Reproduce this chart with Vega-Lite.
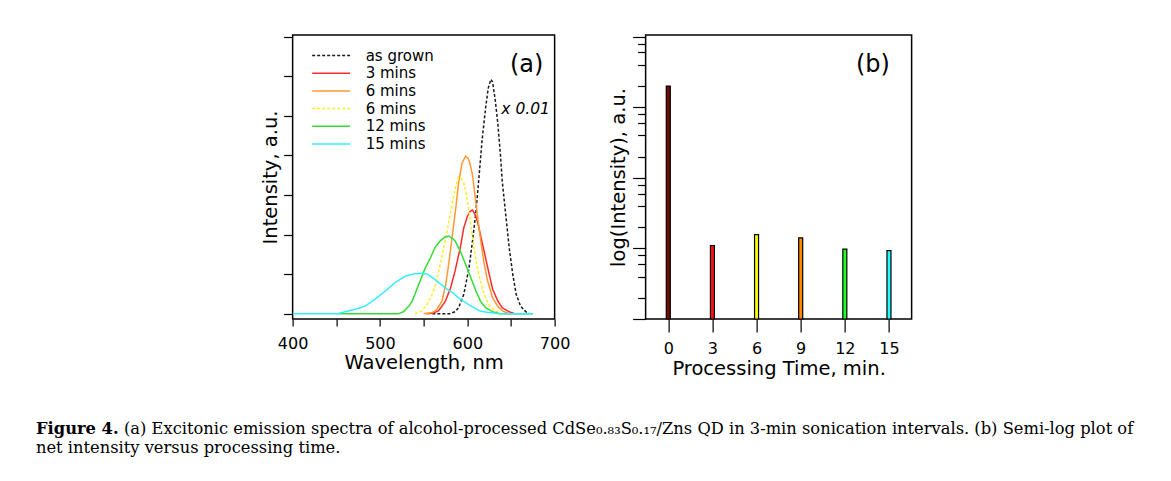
{
  "$schema": "https://vega.github.io/schema/vega-lite/v6.json",
  "background": "white",
  "padding": {"left": 36, "top": 34, "right": 0, "bottom": 0},
  "config": {
    "view": {"stroke": "black", "strokeWidth": 1.5},
    "font": "DejaVu Sans",
    "axis": {
      "domain": false, "grid": false, "tickColor": "black", "tickWidth": 1.2,
      "labelColor": "black", "labelFont": "DejaVu Sans", "labelFontSize": 16,
      "titleFont": "DejaVu Sans", "titleFontSize": 19.5, "titleFontWeight": "normal", "titleColor": "black"
    }
  },
  "vconcat": [
    {
      "hconcat": [
        {
          "width": 262, "height": 284,
          "data": {"values": [
            {"s": "as grown", "nm": 560, "v": 0}, {"s": "as grown", "nm": 580, "v": 0}, {"s": "as grown", "nm": 586, "v": 0.05}, {"s": "as grown", "nm": 590, "v": 0.15}, {"s": "as grown", "nm": 596, "v": 0.49}, {"s": "as grown", "nm": 602, "v": 1.16}, {"s": "as grown", "nm": 606, "v": 1.84}, {"s": "as grown", "nm": 610, "v": 2.6}, {"s": "as grown", "nm": 613, "v": 3.35}, {"s": "as grown", "nm": 617, "v": 4.4}, {"s": "as grown", "nm": 621, "v": 5.2}, {"s": "as grown", "nm": 624, "v": 5.7}, {"s": "as grown", "nm": 627, "v": 5.92}, {"s": "as grown", "nm": 629, "v": 5.85}, {"s": "as grown", "nm": 632, "v": 5.4}, {"s": "as grown", "nm": 635, "v": 4.8}, {"s": "as grown", "nm": 638, "v": 4.0}, {"s": "as grown", "nm": 640, "v": 3.35}, {"s": "as grown", "nm": 644, "v": 2.5}, {"s": "as grown", "nm": 648, "v": 1.67}, {"s": "as grown", "nm": 652, "v": 1.0}, {"s": "as grown", "nm": 656, "v": 0.49}, {"s": "as grown", "nm": 661, "v": 0.19}, {"s": "as grown", "nm": 667, "v": 0.05}, {"s": "as grown", "nm": 671, "v": 0},
            {"s": "3 mins", "nm": 553, "v": 0}, {"s": "3 mins", "nm": 560, "v": 0.01}, {"s": "3 mins", "nm": 567, "v": 0.07}, {"s": "3 mins", "nm": 575, "v": 0.32}, {"s": "3 mins", "nm": 581, "v": 0.66}, {"s": "3 mins", "nm": 586, "v": 1.08}, {"s": "3 mins", "nm": 592, "v": 1.67}, {"s": "3 mins", "nm": 596, "v": 2.17}, {"s": "3 mins", "nm": 600, "v": 2.45}, {"s": "3 mins", "nm": 603, "v": 2.58}, {"s": "3 mins", "nm": 606, "v": 2.62}, {"s": "3 mins", "nm": 609, "v": 2.5}, {"s": "3 mins", "nm": 612, "v": 2.3}, {"s": "3 mins", "nm": 615, "v": 2.0}, {"s": "3 mins", "nm": 619, "v": 1.6}, {"s": "3 mins", "nm": 623, "v": 1.2}, {"s": "3 mins", "nm": 629, "v": 0.62}, {"s": "3 mins", "nm": 635, "v": 0.32}, {"s": "3 mins", "nm": 640, "v": 0.15}, {"s": "3 mins", "nm": 648, "v": 0.05}, {"s": "3 mins", "nm": 654, "v": 0},
            {"s": "6 mins", "nm": 550, "v": 0}, {"s": "6 mins", "nm": 560, "v": 0.03}, {"s": "6 mins", "nm": 565, "v": 0.1}, {"s": "6 mins", "nm": 571, "v": 0.32}, {"s": "6 mins", "nm": 575, "v": 0.7}, {"s": "6 mins", "nm": 579, "v": 1.3}, {"s": "6 mins", "nm": 583, "v": 2.0}, {"s": "6 mins", "nm": 587, "v": 2.7}, {"s": "6 mins", "nm": 590, "v": 3.3}, {"s": "6 mins", "nm": 594, "v": 3.8}, {"s": "6 mins", "nm": 598, "v": 3.98}, {"s": "6 mins", "nm": 601, "v": 3.92}, {"s": "6 mins", "nm": 603, "v": 3.8}, {"s": "6 mins", "nm": 606, "v": 3.5}, {"s": "6 mins", "nm": 609, "v": 2.95}, {"s": "6 mins", "nm": 612, "v": 2.4}, {"s": "6 mins", "nm": 615, "v": 1.9}, {"s": "6 mins", "nm": 619, "v": 1.3}, {"s": "6 mins", "nm": 623, "v": 0.85}, {"s": "6 mins", "nm": 629, "v": 0.4}, {"s": "6 mins", "nm": 635, "v": 0.18}, {"s": "6 mins", "nm": 641, "v": 0.06}, {"s": "6 mins", "nm": 648, "v": 0},
            {"s": "9 mins", "nm": 540, "v": 0}, {"s": "9 mins", "nm": 548, "v": 0.07}, {"s": "9 mins", "nm": 554, "v": 0.24}, {"s": "9 mins", "nm": 560, "v": 0.49}, {"s": "9 mins", "nm": 565, "v": 0.83}, {"s": "9 mins", "nm": 571, "v": 1.45}, {"s": "9 mins", "nm": 577, "v": 2.1}, {"s": "9 mins", "nm": 583, "v": 2.8}, {"s": "9 mins", "nm": 587, "v": 3.25}, {"s": "9 mins", "nm": 590, "v": 3.45}, {"s": "9 mins", "nm": 593, "v": 3.42}, {"s": "9 mins", "nm": 596, "v": 3.3}, {"s": "9 mins", "nm": 599, "v": 3.0}, {"s": "9 mins", "nm": 603, "v": 2.43}, {"s": "9 mins", "nm": 607, "v": 1.75}, {"s": "9 mins", "nm": 612, "v": 1.1}, {"s": "9 mins", "nm": 618, "v": 0.57}, {"s": "9 mins", "nm": 624, "v": 0.24}, {"s": "9 mins", "nm": 632, "v": 0.07}, {"s": "9 mins", "nm": 640, "v": 0},
            {"s": "12 mins", "nm": 452, "v": 0}, {"s": "12 mins", "nm": 521, "v": 0}, {"s": "12 mins", "nm": 527, "v": 0.05}, {"s": "12 mins", "nm": 533, "v": 0.19}, {"s": "12 mins", "nm": 537, "v": 0.32}, {"s": "12 mins", "nm": 540, "v": 0.49}, {"s": "12 mins", "nm": 546, "v": 0.83}, {"s": "12 mins", "nm": 552, "v": 1.16}, {"s": "12 mins", "nm": 558, "v": 1.42}, {"s": "12 mins", "nm": 563, "v": 1.67}, {"s": "12 mins", "nm": 569, "v": 1.84}, {"s": "12 mins", "nm": 574, "v": 1.93}, {"s": "12 mins", "nm": 579, "v": 1.96}, {"s": "12 mins", "nm": 583, "v": 1.9}, {"s": "12 mins", "nm": 586, "v": 1.84}, {"s": "12 mins", "nm": 592, "v": 1.58}, {"s": "12 mins", "nm": 598, "v": 1.25}, {"s": "12 mins", "nm": 604, "v": 0.91}, {"s": "12 mins", "nm": 610, "v": 0.57}, {"s": "12 mins", "nm": 615, "v": 0.32}, {"s": "12 mins", "nm": 621, "v": 0.15}, {"s": "12 mins", "nm": 629, "v": 0.05}, {"s": "12 mins", "nm": 637, "v": 0}, {"s": "12 mins", "nm": 675, "v": 0},
            {"s": "15 mins", "nm": 400, "v": 0}, {"s": "15 mins", "nm": 452, "v": 0}, {"s": "15 mins", "nm": 460, "v": 0.05}, {"s": "15 mins", "nm": 471, "v": 0.11}, {"s": "15 mins", "nm": 483, "v": 0.19}, {"s": "15 mins", "nm": 494, "v": 0.36}, {"s": "15 mins", "nm": 506, "v": 0.57}, {"s": "15 mins", "nm": 517, "v": 0.78}, {"s": "15 mins", "nm": 529, "v": 0.95}, {"s": "15 mins", "nm": 540, "v": 1.01}, {"s": "15 mins", "nm": 548, "v": 1.02}, {"s": "15 mins", "nm": 554, "v": 1.0}, {"s": "15 mins", "nm": 560, "v": 0.91}, {"s": "15 mins", "nm": 565, "v": 0.83}, {"s": "15 mins", "nm": 571, "v": 0.72}, {"s": "15 mins", "nm": 577, "v": 0.62}, {"s": "15 mins", "nm": 583, "v": 0.53}, {"s": "15 mins", "nm": 590, "v": 0.4}, {"s": "15 mins", "nm": 598, "v": 0.28}, {"s": "15 mins", "nm": 606, "v": 0.17}, {"s": "15 mins", "nm": 613, "v": 0.08}, {"s": "15 mins", "nm": 621, "v": 0.04}, {"s": "15 mins", "nm": 629, "v": 0.02}, {"s": "15 mins", "nm": 636, "v": 0}, {"s": "15 mins", "nm": 675, "v": 0}
          ]},
          "layer": [
            {
              "mark": {"type": "line", "strokeWidth": 1.5, "clip": true},
              "encoding": {
                "x": {"field": "nm", "type": "quantitative", "scale": {"domain": [400, 700], "nice": false, "zero": false},
                      "axis": {"values": [400, 450, 500, 550, 600, 650, 700], "labelExpr": "datum.value % 100 == 0 ? datum.label : ''", "tickSize": 7, "labelPadding": 9, "titlePadding": 2, "title": "Wavelength, nm", "labelFlush": false}},
                "y": {"field": "v", "type": "quantitative", "scale": {"domain": [-0.134, 7.04], "nice": false, "zero": false},
                      "axis": {"values": [0, 1, 2, 3, 4, 5, 6, 7], "labels": false, "tickSize": 9, "titlePadding": 3, "title": "Intensity, a.u."}},
                "color": {"field": "s", "type": "nominal", "sort": null,
                          "scale": {"domain": ["as grown", "3 mins", "6 mins", "9 mins", "12 mins", "15 mins"], "range": ["#1a1a1a", "#ff2a2a", "#ff9933", "#ffee22", "#33dd33", "#33eeff"]},
                          "legend": {"orient": "none", "legendX": 31, "legendY": 13, "title": null, "symbolType": "M-4,0H4", "symbolSize": 90, "symbolStrokeWidth": 1.5, "labelFontSize": 15, "labelFont": "DejaVu Sans", "labelColor": "black", "rowPadding": 1.7, "labelOffset": 27, "padding": 0,
                                     "labelExpr": "datum.label == 'as grown' ? 'as grown' : datum.label == '3 mins' ? '3  mins' : datum.label == '6 mins' ? '6  mins' : datum.label == '9 mins' ? '6  mins' : datum.label == '12 mins' ? '12  mins' : '15  mins'"}},
                "strokeDash": {"field": "s", "type": "nominal", "sort": null,
                               "scale": {"domain": ["as grown", "3 mins", "6 mins", "9 mins", "12 mins", "15 mins"], "range": [[3, 2], [1, 0], [1, 0], [3, 2], [1, 0], [1, 0]]},
                               "legend": {"orient": "none", "legendX": 31, "legendY": 13, "title": null, "symbolType": "M-4,0H4", "symbolSize": 90, "symbolStrokeWidth": 1.5, "labelFontSize": 15, "labelFont": "DejaVu Sans", "labelColor": "black", "rowPadding": 1.7, "labelOffset": 27, "padding": 0,
                                     "labelExpr": "datum.label == 'as grown' ? 'as grown' : datum.label == '3 mins' ? '3  mins' : datum.label == '6 mins' ? '6  mins' : datum.label == '9 mins' ? '6  mins' : datum.label == '12 mins' ? '12  mins' : '15  mins'"}}
              }
            },
            {
              "data": {"values": [{"label": "(a)"}]},
              "mark": {"type": "text", "fontSize": 24, "align": "center", "baseline": "middle", "color": "black", "font": "DejaVu Sans"},
              "encoding": {"text": {"field": "label"}, "x": {"datum": 668}, "y": {"datum": 6.28}}
            },
            {
              "data": {"values": [{"label": "x 0.01"}]},
              "mark": {"type": "text", "fontSize": 15.5, "fontStyle": "italic", "align": "left", "baseline": "middle", "color": "black", "font": "DejaVu Sans"},
              "encoding": {"text": {"field": "label"}, "x": {"datum": 639}, "y": {"datum": 5.17}}
            }
          ]
        },
        {
          "width": 266, "height": 284,
          "data": {"values": [
            {"t": 0, "v": 1995, "c": "0"}, {"t": 3, "v": 11, "c": "3"}, {"t": 6, "v": 15.7, "c": "6"}, {"t": 9, "v": 14.1, "c": "9"}, {"t": 12, "v": 9.8, "c": "12"}, {"t": 15, "v": 9.3, "c": "15"}
          ]},
          "layer": [
            {
              "mark": {"type": "bar", "width": 4, "stroke": "black", "strokeWidth": 1.2},
              "encoding": {
                "x": {"field": "t", "type": "quantitative", "scale": {"domain": [-1.2, 16.2], "nice": false, "zero": false},
                      "axis": {"values": [0, 3, 6, 9, 12, 15], "tickSize": 13, "labelPadding": 8, "titlePadding": 3, "title": "Processing Time, min."}},
                "y": {"field": "v", "type": "quantitative", "scale": {"type": "log", "domain": [1, 10570], "nice": false},
                      "axis": {"values": [1, 2, 4, 6, 8, 10, 20, 40, 60, 80, 100, 200, 400, 600, 800, 1000, 2000, 4000, 6000, 8000, 10000], "labels": false,
                               "tickSize": {"condition": {"test": "indexof([1, 10, 100, 1000, 10000], datum.value) >= 0", "value": 13}, "value": 8},
                               "titlePadding": 4, "title": "log(Intensity), a.u."}},
                "y2": {"datum": 1},
                "color": {"field": "c", "type": "nominal", "sort": null, "legend": null,
                          "scale": {"domain": ["0", "3", "6", "9", "12", "15"], "range": ["#730c00", "#ff1010", "#ffff00", "#ff8800", "#22ff22", "#22ffff"]}}
              }
            },
            {
              "data": {"values": [{"label": "(b)"}]},
              "mark": {"type": "text", "fontSize": 24, "align": "center", "baseline": "middle", "color": "black", "font": "DejaVu Sans"},
              "encoding": {"text": {"field": "label"}, "x": {"datum": 13.91}, "y": {"datum": 3981}}
            }
          ]
        }
      ],
      "spacing": 35,
      "resolve": {"scale": {"color": "independent", "strokeDash": "independent"}, "legend": {"color": "independent", "strokeDash": "independent"}}
    },
    {
      "width": 1133, "height": 1,
      "view": {"stroke": null},
      "data": {"values": []},
      "mark": {"type": "point", "opacity": 0},
      "title": {
        "text": "Figure 4.",
        "subtitle": ["\u200b\u00a0\u00a0\u00a0\u00a0\u00a0\u00a0\u00a0\u00a0\u00a0\u00a0\u00a0\u00a0\u00a0\u00a0\u00a0\u00a0 (a) Excitonic emission spectra of alcohol-processed CdSe₀.₈₃S₀.₁₇/Zns QD in 3-min sonication intervals. (b) Semi-log plot of", "net intensity versus processing time."],
        "anchor": "start", "orient": "top", "font": "DejaVu Serif", "fontSize": 16.3, "fontWeight": "bold", "color": "black",
        "subtitleFont": "DejaVu Serif", "subtitleFontSize": 16.3, "subtitleFontWeight": "normal", "subtitleColor": "black", "subtitleLineHeight": 19, "subtitlePadding": -16.3, "offset": 0
      }
    }
  ],
  "spacing": 41,
  "center": true
}
